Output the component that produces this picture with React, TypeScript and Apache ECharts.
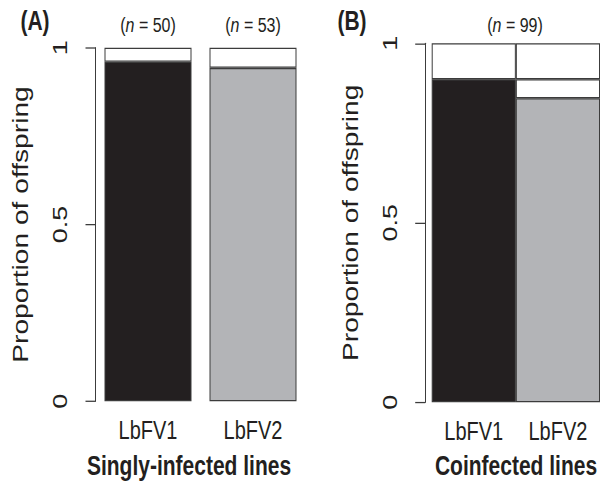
import React, { useEffect, useRef } from 'react';
import * as echarts from 'echarts';

const categories = ['LbFV1', 'LbFV2'];
// Panel A: singly-infected lines
const singlyInfected = [0.96, 0.943];
const singlyUninfected = [0.04, 0.057];
const sampleSizesA = [50, 53];
// Panel B: coinfected lines
const coInfected = [0.9, 0.847];
const coMiddle = [0.1, 0.053];
const coTop: (number | null)[] = [null, 0.1];
const sampleSizeB = 99;

const FONT = '"Liberation Sans", Arial, Helvetica, sans-serif';
const BLACK = '#231f20';
const GREY = '#b3b4b7';
const EDGE = '#3c3c3c';
const TEXT = '#231f20';

// the reference figure is stretched vertically
const S = 1.28;
const W = 606;
const H = 486;
const Y = (v: number) => v / S;

function yAxisCfg(gridIndex: number, offset: number) {
  return {
    gridIndex,
    type: 'value',
    min: 0,
    max: 1,
    interval: 0.5,
    offset,
    axisLine: { show: true, lineStyle: { color: EDGE, width: 1 } },
    axisTick: { show: true, length: 10, lineStyle: { color: EDGE, width: 1 } },
    axisLabel: { rotate: 90, margin: 25, fontSize: 21, color: TEXT, fontFamily: FONT },
    splitLine: { show: false },
    name: 'Proportion of offspring',
    nameLocation: 'middle',
    nameRotate: 90,
    nameGap: 64.5,
    nameTextStyle: { fontSize: 22, color: TEXT, fontFamily: FONT },
  };
}

function xAxisCfg(gridIndex: number) {
  return {
    gridIndex,
    type: 'category',
    data: categories,
    axisLine: { show: false },
    axisTick: { show: false },
    axisLabel: { fontSize: 20, margin: 12.5, color: TEXT, fontFamily: FONT },
  };
}

const colorsFor = (vals: (number | null)[], colors: string[]) =>
  vals.map((v, i) => (v === null ? '-' : { value: v, itemStyle: { color: colors[i] } }));

const barStyle = { borderColor: EDGE, borderWidth: 1 };

function nLabel(n: number, x: number) {
  return {
    type: 'text',
    x,
    y: Y(25),
    style: {
      text: '({i|n} = ' + n + ')',
      fontSize: 16,
      fontFamily: FONT,
      fill: TEXT,
      align: 'center',
      verticalAlign: 'middle',
      rich: { i: { fontStyle: 'italic', fontSize: 16, fontFamily: FONT, fill: TEXT } },
    },
  };
}

function boldText(text: string, x: number, y: number, size: number) {
  return {
    type: 'text',
    x,
    y: Y(y),
    style: {
      text,
      fontSize: size,
      fontWeight: 'bold',
      fontFamily: FONT,
      fill: TEXT,
      align: 'center',
      verticalAlign: 'middle',
    },
  };
}

export default function App() {
  const ref = useRef<HTMLDivElement>(null);
  useEffect(() => {
    document.body.style.margin = '0';
    const chart = echarts.init(ref.current!, null, { renderer: 'svg' });
    const option = {
      animation: false,
      backgroundColor: '#ffffff',
      grid: [
        { left: 95.5, top: Y(47.7), width: 210, height: Y(353.6) },
        { left: 431.7, top: Y(43.3), width: 168.3, height: Y(359) },
      ],
      xAxis: [xAxisCfg(0), xAxisCfg(1)],
      yAxis: [yAxisCfg(0, 0), yAxisCfg(1, 6.5)],
      series: [
        {
          type: 'bar', xAxisIndex: 0, yAxisIndex: 0, stack: 'a', barWidth: 87,
          itemStyle: barStyle,
          data: colorsFor(singlyInfected, [BLACK, GREY]),
        },
        {
          type: 'bar', xAxisIndex: 0, yAxisIndex: 0, stack: 'a', barWidth: 87,
          itemStyle: { ...barStyle, color: '#ffffff' },
          data: singlyUninfected,
        },
        {
          type: 'bar', xAxisIndex: 1, yAxisIndex: 1, stack: 'b', barWidth: '100%',
          itemStyle: barStyle,
          data: colorsFor(coInfected, [BLACK, GREY]),
        },
        {
          type: 'bar', xAxisIndex: 1, yAxisIndex: 1, stack: 'b', barWidth: '100%',
          itemStyle: { ...barStyle, color: '#ffffff' },
          data: coMiddle,
        },
        {
          type: 'bar', xAxisIndex: 1, yAxisIndex: 1, stack: 'b', barWidth: '100%',
          itemStyle: { ...barStyle, color: '#ffffff' },
          data: coTop.map((v) => (v === null ? '-' : v)),
        },
      ],
      graphic: [
        boldText('(A)', 35, 21, 21),
        boldText('(B)', 352, 21, 21),
        nLabel(sampleSizesA[0], 148),
        nLabel(sampleSizesA[1], 253),
        nLabel(sampleSizeB, 515),
        boldText('Singly-infected lines', 189, 466, 21),
        boldText('Coinfected lines', 516, 466, 21),
      ],
    };
    chart.setOption(option as any);
    return () => chart.dispose();
  }, []);
  return (
    <div style={{ width: W, height: H, overflow: 'hidden', background: '#fff' }}>
      <div
        ref={ref}
        style={{ width: W, height: H / S, transform: `scaleY(${S})`, transformOrigin: '0 0' }}
      />
    </div>
  );
}
